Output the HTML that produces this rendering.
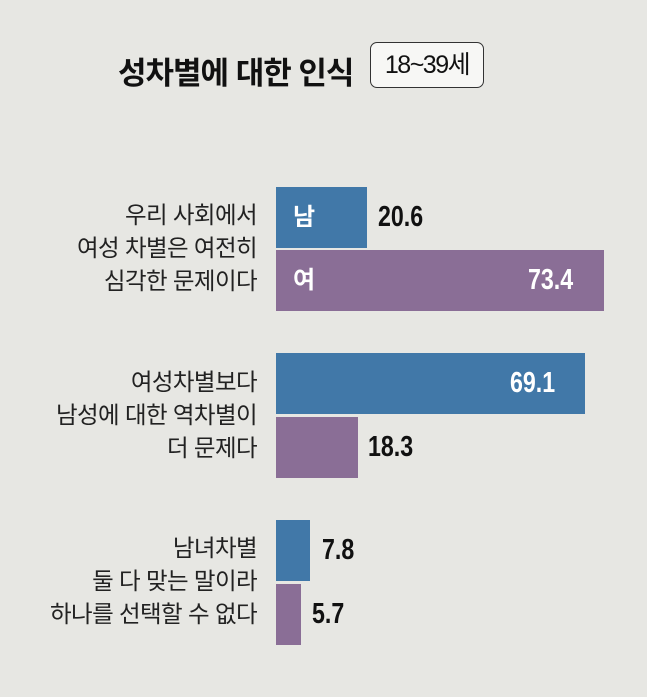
<!DOCTYPE html>
<html><head><meta charset="utf-8"><style>
body{margin:0;width:647px;height:697px;background:#e7e7e3;position:relative;overflow:hidden;font-family:"Liberation Sans","Noto Sans CJK KR",sans-serif;}
.a{position:absolute;}
.t{left:118px;top:48px;font-size:31px;font-weight:bold;color:#111;letter-spacing:-1px;white-space:nowrap;}
.box{left:370px;top:42px;width:112px;height:44px;border:1.5px solid #333;border-radius:7px;background:#f7f7f5;font-size:25px;text-align:center;line-height:44px;color:#111;letter-spacing:-1.5px;}
.lab{right:390px;text-align:right;font-size:23.5px;line-height:33px;color:#222;white-space:nowrap;letter-spacing:-0.6px;}
.b{left:276px;height:61px;}
.bl{background:#4178a8;}.pu{background:#8a6e96;}
.in{font-size:24px;color:#fff;font-weight:bold;line-height:61px;}
.v{font-size:29px;font-weight:bold;color:#111;line-height:61px;transform:scaleX(0.8);transform-origin:left;}
</style></head><body>
<div class="a t">성차별에 대한 인식</div>
<div class="a box">18~39세</div>

<div class="a lab" style="top:199px">우리 사회에서<br>여성 차별은 여전히<br>심각한 문제이다</div>
<div class="a b bl" style="top:187px;width:91px"><span class="in" style="margin-left:17px">남</span></div>
<div class="a v" style="left:378px;top:187px">20.6</div>
<div class="a b pu" style="top:250px;width:328px"><span class="in" style="margin-left:17px">여</span></div>
<div class="a v" style="left:528px;top:250px;color:#fff">73.4</div>

<div class="a lab" style="top:366px">여성차별보다<br>남성에 대한 역차별이<br>더 문제다</div>
<div class="a b bl" style="top:353px;width:309px"></div>
<div class="a v" style="left:510px;top:353px;color:#fff">69.1</div>
<div class="a b pu" style="top:417px;width:82px"></div>
<div class="a v" style="left:368px;top:417px">18.3</div>

<div class="a lab" style="top:532px">남녀차별<br>둘 다 맞는 말이라<br>하나를 선택할 수 없다</div>
<div class="a b bl" style="top:520px;width:34px"></div>
<div class="a v" style="left:322px;top:520px">7.8</div>
<div class="a b pu" style="top:584px;width:25px"></div>
<div class="a v" style="left:312px;top:584px">5.7</div>
</body></html>
